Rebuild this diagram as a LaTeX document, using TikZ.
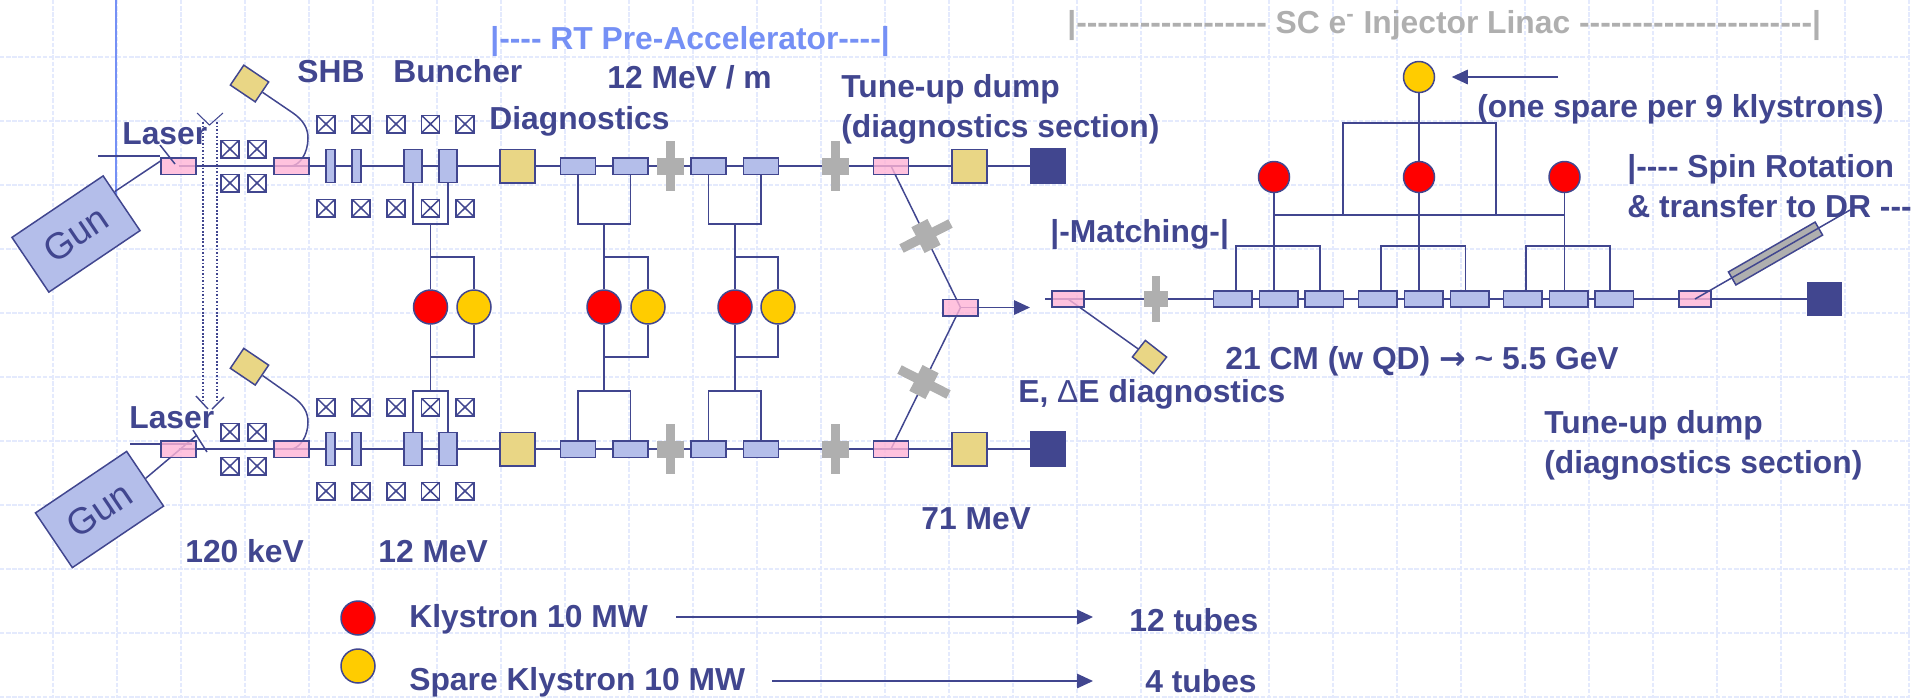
\documentclass[tikz,border=0pt]{standalone}
\usepackage{fontspec}
\newfontfamily\lblfont{Liberation Sans}
\newfontfamily\arrowfont{DejaVu Sans}
\usetikzlibrary{shapes.geometric, arrows.meta, positioning, calc, backgrounds}
\definecolor{linkblue}{HTML}{41468F}
\definecolor{cavfill}{HTML}{B4BEEA}
\definecolor{pinkfill}{HTML}{FFB3D6}
\definecolor{goldfill}{HTML}{E9D685}
\definecolor{crossgray}{HTML}{AFAFAF}
\definecolor{klyred}{HTML}{FF0000}
\definecolor{klyamber}{HTML}{FFCC00}
\definecolor{rtblue}{HTML}{7590F5}
\definecolor{gridblue}{HTML}{E4EAFD}

\begin{document}
\begin{tikzpicture}[
    x=0.02cm, y=-0.02cm,
    % ── Node styles ──────────────────────────────────────────────────────
    base/.style={
        draw=linkblue, line width=0.85pt, inner sep=0pt
    },
    pinkbox/.style={
        base, fill=pinkfill, fill opacity=0.8,
        minimum width=0.7cm, minimum height=0.33cm
    },
    cavbox/.style={
        base, fill=cavfill,
        minimum width=0.7cm, minimum height=0.33cm
    },
    cmbox/.style={
        base, fill=cavfill,
        minimum width=0.77cm, minimum height=0.32cm
    },
    thinbox/.style={
        base, fill=cavfill,
        minimum width=0.18cm, minimum height=0.66cm
    },
    bunchbox/.style={
        base, fill=cavfill,
        minimum width=0.36cm, minimum height=0.66cm
    },
    goldbox/.style={
        base, fill=goldfill,
        minimum width=0.7cm, minimum height=0.67cm
    },
    dumpbox/.style={
        base, fill=linkblue,
        minimum width=0.7cm, minimum height=0.7cm
    },
    tiltbox/.style={
        base, fill=goldfill,
        minimum width=0.6cm, minimum height=0.48cm
    },
    gunbox/.style={
        base, fill=cavfill, text=linkblue,
        minimum width=2.2cm, minimum height=1.32cm,
        font=\fontsize{21}{25}\selectfont\lblfont
    },
    solbox/.style={
        base, fill=white,
        minimum width=0.36cm, minimum height=0.35cm,
        path picture={
            \draw[linkblue, line width=0.85pt]
                (path picture bounding box.north west) -- (path picture bounding box.south east)
                (path picture bounding box.south west) -- (path picture bounding box.north east);
        }
    },
    klynode/.style={
        base, circle, fill=klyred, minimum size=0.68cm
    },
    sparenode/.style={
        base, circle, fill=klyamber, minimum size=0.68cm
    },
    crossbar/.style={
        fill=crossgray, inner sep=0pt
    },
    lbl/.style={
        anchor=base west, inner sep=0pt, text=linkblue,
        font=\fontsize{18.1}{22.7}\selectfont\lblfont\bfseries
    },
    % ── Line styles ──────────────────────────────────────────────────────
    beam/.style={
        draw=linkblue, line width=0.85pt
    },
    feed/.style={
        draw=linkblue, line width=0.8pt
    },
    arr/.style={
        beam, -{Triangle[length=3.2mm, width=2.9mm]}
    }
]
\useasboundingbox (0,0) rectangle (1930,698);

% ═══════════════════════════════════════════════════════════════════════════
% Two injector rows
% ═══════════════════════════════════════════════════════════════════════════
\foreach \row/\by in {u/166, l/449} {
    % Beamline elements
    \foreach \n/\bx in {pa/178.5, pb/291.5, pc/891}
        \node[pinkbox] (\n\row) at (\bx,\by) {};
    \foreach \n/\bx in {sa/330.5, sb/356.5}
        \node[thinbox] (\n\row) at (\bx,\by) {};
    \foreach \n/\bx in {bua/413, bub/448}
        \node[bunchbox] (\n\row) at (\bx,\by) {};
    \foreach \n/\bx in {cva/578, cvb/630.5, cvc/708.5, cvd/761}
        \node[cavbox] (\n\row) at (\bx,\by) {};
    \foreach \n/\bx in {da/517.5, db/969.5}
        \node[goldbox] (\n\row) at (\bx,\by) {};
    \node[dumpbox] (dump\row) at (1048,\by) {};

    % Quadrupole crosses
    \foreach \n/\bx in {qa/670, qb/835} {
        \node[crossbar, minimum width=0.18cm, minimum height=1cm] (\n v\row) at (\bx,\by) {};
        \node[crossbar, minimum width=0.54cm, minimum height=0.34cm] (\n h\row) at (\bx,\by) {};
    }

    % Solenoids
    \foreach \n/\sx in {a/326, b/361, c/396, d/430.5, e/465} {
        \node[solbox] (sol\n\row t) at (\sx,\by-42) {};
        \node[solbox] (sol\n\row b) at (\sx,\by+42) {};
    }
    \foreach \n/\sx in {a/230, b/257} {
        \node[solbox] (coil\n\row t) at (\sx,\by-17) {};
        \node[solbox] (coil\n\row b) at (\sx,\by+17) {};
    }
}

% 1. Guns and laser-side parts
\node[gunbox, rotate=34] (gunu) at (76,234) {Gun};
\node[gunbox, rotate=34] (gunl) at (99.5,509.5) {Gun};
\node[tiltbox, rotate=-34] (shbu) at (249.5,83.5) {};
\node[tiltbox, rotate=-34] (shbl) at (249.5,366.7) {};

% 2. Klystrons of the pre-accelerator
\foreach \n/\kx/\sx in {a/430.5/474, b/604/648, c/735/778} {
    \node[klynode] (kly\n) at (\kx,307) {};
    \node[sparenode] (spr\n) at (\sx,307) {};
}

% 3. Dogleg and matching
\node[pinkbox] (merge) at (960.5,307.5) {};
\node[crossbar, minimum width=0.19cm, minimum height=1.1cm, rotate=-63] (dogav) at (926,236) {};
\node[crossbar, minimum width=0.58cm, minimum height=0.36cm, rotate=-63] (dogah) at (926,236) {};
\node[crossbar, minimum width=0.19cm, minimum height=1.1cm, rotate=63] (dogbv) at (924,382) {};
\node[crossbar, minimum width=0.58cm, minimum height=0.36cm, rotate=63] (dogbh) at (924,382) {};
\node[pinkbox, minimum width=0.64cm, minimum height=0.32cm] (pmatch) at (1068,299) {};
\node[tiltbox, minimum width=0.54cm, minimum height=0.42cm, rotate=-38] (ediag) at (1149.5,357) {};
\node[crossbar, minimum width=0.16cm, minimum height=0.92cm] (qmv) at (1156,299) {};
\node[crossbar, minimum width=0.48cm, minimum height=0.32cm] (qmh) at (1156,299) {};

% 4. SC linac
\foreach \n/\bx in {a/1232.5, b/1278.5, c/1324, d/1377.5, e/1423.5, f/1469.5, g/1522.5, h/1568.5, i/1614}
    \node[cmbox] (cm\n) at (\bx,299) {};
\node[klynode, minimum size=0.62cm] (scka) at (1274,177) {};
\node[klynode, minimum size=0.62cm] (sckb) at (1419,177) {};
\node[klynode, minimum size=0.62cm] (sckc) at (1564.5,177) {};
\node[sparenode, minimum size=0.62cm] (scspare) at (1419,77) {};
\node[pinkbox, minimum width=0.64cm, minimum height=0.32cm] (pspin) at (1695,299) {};
\node[dumpbox, minimum width=0.66cm, minimum height=0.65cm] (dumpsc) at (1824.5,299) {};
\node[base, fill=crossgray, minimum width=2cm, minimum height=0.3cm, rotate=29.9] (septum) at (1775.5,253.5) {};

% ═══════════════════════════════════════════════════════════════════════════
% Connectors
% ═══════════════════════════════════════════════════════════════════════════
\coordinate (wallend) at (116,195);
\coordinate (wallend0) at (116,0);
\coordinate (laseru) at (98,156);
\coordinate (laserua) at (160,156);
\coordinate (laserl) at (130,444);
\coordinate (laserla) at (192,444);
\coordinate (gunubeam) at ($(gunu.north east)!0.3!(gunu.south east)$);
\coordinate (mergetip) at (1030,307.5);
\coordinate (matchstart) at (1045,299);
\coordinate (spinend) at (1850,210);
\coordinate (busl) at (1343,215);
\coordinate (busr) at (1496,215);

\begin{scope}[on background layer]
    % Sheet grid
    \foreach \gy in {57,121,...,697}
        \draw[gridblue, line width=0.9pt, dash pattern=on 2.5pt off 1pt] (0,\gy) -- (1910,\gy);
    \foreach \gx in {53,117,...,1909}
        \draw[gridblue, line width=0.9pt, dash pattern=on 2.5pt off 1pt] (\gx,0) -- (\gx,698);
    \draw[rtblue, line width=0.85pt] (wallend0) -- (wallend);

    % Beamlines
    \draw[beam] (pau.center) -- (dumpu.center);
    \draw[beam] (pal.center) -- (dumpl.center);
    \draw[beam] (gunubeam) -- (162,160);
    \draw[beam] (gunl.east) -- (197,435);
    \draw[beam] (laseru) -- (laserua);
    \draw[beam] (laserl) -- (laserla);
    \draw[beam] (pcu.center) -- (merge.center) -- (pcl.center);
    \draw[arr]  (merge.center) -- (mergetip);
    \draw[beam] (matchstart) -- (dumpsc.center);
    \draw[beam] (pmatch.center) -- (ediag.center);
    \draw[beam] (shbu.east) -- (293,113) .. controls (303,120) and (308,128) .. (308,138)
        .. controls (308,153) and (300,165) .. (pbu.center);
    \draw[beam] (shbl.east) -- (293,397) .. controls (303,404) and (308,412) .. (308,422)
        .. controls (308,436) and (300,448) .. (pbl.center);
\end{scope}

% Laser mirrors
\draw[beam] (160,145) -- (175,164);
\draw[beam] (193,430) -- (207,452);

% Dotted transfer between the two lasers
\coordinate (xfera) at (203,122);
\coordinate (xferb) at (217,122);
\coordinate (xferc) at (203,403);
\coordinate (xferd) at (217,403);
\draw[linkblue, line width=0.9pt, dash pattern=on 1pt off 1pt] (xfera) -- (xferc);
\draw[linkblue, line width=0.9pt, dash pattern=on 1pt off 1pt] (xferb) -- (xferd);
\draw[linkblue, line width=0.6pt] (197,113) -- (209.5,125) -- (223,113);
\draw[linkblue, line width=0.8pt] (196,396) -- (208,409);
\draw[linkblue, line width=0.8pt] (224,397) -- (212,409);

% Klystron feeds, pre-accelerator
\foreach \n/\ca/\cb in {a/bua/bub, b/cva/cvb, c/cvc/cvd} {
    \draw[feed] (\ca u.south) |- (kly\n |- 0,224) -| (\cb u.south);
    \draw[feed] (kly\n.north) -- (kly\n |- 0,224);
    \draw[feed] (kly\n |- 0,257) -| (spr\n.north);
    \draw[feed] (\ca l.north) |- (kly\n |- 0,391) -| (\cb l.north);
    \draw[feed] (kly\n.south) -- (kly\n |- 0,391);
    \draw[feed] (kly\n |- 0,357) -| (spr\n.south);
}

% Klystron feeds, SC linac
\foreach \k/\ca/\cm/\cb in {scka/cma/cmb/cmc, sckb/cmd/cme/cmf, sckc/cmg/cmh/cmi} {
    \draw[feed] ([xshift=0.07cm]\ca.north) |- (\k |- 0,246) -| ([xshift=-0.08cm]\cb.north);
    \draw[feed] (\k.south) -- (\k |- \cm.north);
}
\draw[feed] (scka |- 0,215) -- (sckc |- 0,215);
\draw[feed] (busl) |- (sckb |- 0,123) -| (busr);
\draw[feed] (scspare.south) -- (sckb.north);
\draw[arr] ([xshift=2.46cm]scspare.east) -- ([xshift=0.33cm]scspare.east);

% Spin rotation line
\draw[beam] (pspin.center) -- (spinend);

% ═══════════════════════════════════════════════════════════════════════════
% Labels
% ═══════════════════════════════════════════════════════════════════════════
\node[lbl, text=rtblue] (rthead) at (490,49) {|---- RT Pre-Accelerator----|};
\node[lbl, text=crossgray] (schead) at (1067,33) {|------------------ SC e\textsuperscript{-} Injector Linac ----------------------|};
\node[lbl] (lasertxtu) at (122,144) {Laser};
\node[lbl] (lasertxtl) at (129,428) {Laser};
\node[lbl] (shbtxt) at (297,82) {SHB};
\node[lbl] (buntxt) at (393,82) {Buncher};
\node[lbl] (diagtxt) at (489,129) {Diagnostics};
\node[lbl] (gradtxt) at (607,88) {12 MeV / m};
\node[lbl, align=left] (dumptxta) at (841,137) {Tune-up dump\\(diagnostics section)};
\node[lbl] (matchtxt) at (1050,242) {|-Matching-|};
\node[lbl] (cmtxt) at (1225,369) {21 CM (w QD) {\arrowfont →} \textasciitilde{} 5.5 GeV};
\node[lbl] (edtxt) at (1018,402) {E, {\mdseries Δ}E diagnostics};
\node[lbl, align=left] (dumptxtb) at (1544,473) {Tune-up dump\\(diagnostics section)};
\node[lbl] (sparetxt) at (1477,117) {(one spare per 9 klystrons)};
\node[lbl, align=left] (spintxt) at (1627,217) {|---- Spin Rotation\\\& transfer to DR ---};
\node[lbl] (kevtxt) at (185,562) {120 keV};
\node[lbl] (mevtxt) at (378,562) {12 MeV};
\node[lbl] (mevbtxt) at (921,529) {71 MeV};

% ═══════════════════════════════════════════════════════════════════════════
% Legend
% ═══════════════════════════════════════════════════════════════════════════
\node[klynode] (legkly) at (358,618) {};
\node[sparenode] (legspr) at (358,666) {};
\node[lbl] (legklytxt) at (409,627) {Klystron 10 MW};
\node[lbl] (legsprtxt) at (409,690) {Spare Klystron 10 MW};
\node[lbl] (tubesa) at (1129,631) {12 tubes};
\node[lbl] (tubesb) at (1145,692) {4 tubes};
\coordinate (legka) at (676,617);
\coordinate (legkb) at (1093,617);
\coordinate (legsa) at (772,681);
\coordinate (legsb) at (1093,681);
\draw[arr] (legka) -- (legkb);
\draw[arr] (legsa) -- (legsb);

\end{tikzpicture}
\end{document}
